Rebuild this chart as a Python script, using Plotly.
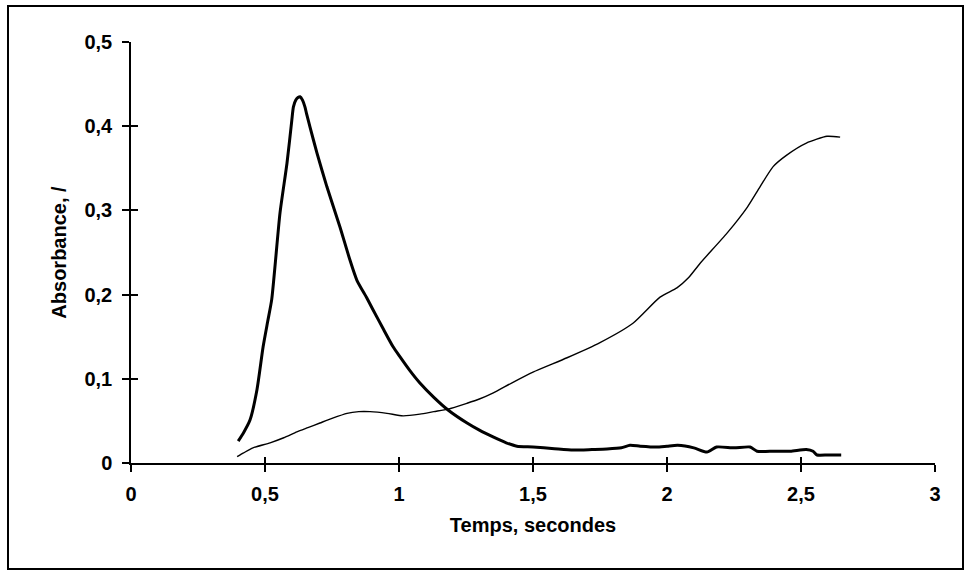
import plotly.graph_objects as go

# Thick curve (transient peak)
peak_t = [0.40, 0.42, 0.444, 0.47, 0.493, 0.51, 0.525, 0.556, 0.582, 0.60, 0.606, 0.615, 0.623, 0.631,
          0.64, 0.649, 0.655, 0.668, 0.694, 0.731, 0.78, 0.817, 0.843, 0.88, 0.903, 0.94, 0.978, 1.004,
          1.04, 1.078, 1.13, 1.183, 1.254, 1.30, 1.351, 1.40, 1.44, 1.50, 1.58, 1.65, 1.72, 1.776, 1.83,
          1.862, 1.90, 1.96, 2.0, 2.04, 2.10, 2.149, 2.185, 2.25, 2.31, 2.336, 2.40, 2.46, 2.52, 2.545,
          2.56, 2.60, 2.65]
peak_a = [0.026, 0.036, 0.051, 0.087, 0.138, 0.168, 0.194, 0.297, 0.356, 0.407, 0.423, 0.431, 0.434, 0.435,
          0.431, 0.423, 0.415, 0.399, 0.368, 0.328, 0.28, 0.241, 0.217, 0.196, 0.182, 0.16, 0.138, 0.126,
          0.11, 0.095, 0.078, 0.063, 0.0475, 0.039, 0.031, 0.024, 0.020, 0.019, 0.017, 0.0154, 0.016, 0.0166, 0.018,
          0.021, 0.020, 0.019, 0.020, 0.021, 0.018, 0.013, 0.019, 0.018, 0.019, 0.014, 0.014, 0.014, 0.016, 0.014,
          0.0095, 0.0095, 0.0095]

# Thin curve (product growth)
rise_t = [0.396, 0.42, 0.455, 0.519, 0.57, 0.619, 0.66, 0.705, 0.75, 0.806, 0.85, 0.892, 0.955,
          1.015, 1.078, 1.13, 1.183, 1.254, 1.30, 1.35, 1.42, 1.5, 1.627, 1.75, 1.873, 1.974,
          2.037, 2.08, 2.123, 2.224, 2.30, 2.347, 2.396, 2.448, 2.52, 2.597, 2.646]
rise_a = [0.0075, 0.012, 0.018, 0.024, 0.030, 0.037, 0.042, 0.0475, 0.053, 0.059, 0.061, 0.061, 0.059,
          0.056, 0.058, 0.061, 0.064, 0.071, 0.076, 0.083, 0.095, 0.108, 0.125, 0.143, 0.166, 0.197,
          0.208, 0.22, 0.237, 0.273, 0.304, 0.328, 0.352, 0.366, 0.38, 0.388, 0.387]

x_ticks = [0, 0.5, 1, 1.5, 2, 2.5, 3]
x_tick_labels = ["0", "0,5", "1", "1,5", "2", "2,5", "3"]
y_ticks = [0, 0.1, 0.2, 0.3, 0.4, 0.5]
y_tick_labels = ["0", "0,1", "0,2", "0,3", "0,4", "0,5"]

FONT = "Liberation Sans, Arial, sans-serif"
tickfont = dict(family=FONT, size=20, color="black", weight="bold")
titlefont = dict(family=FONT, size=20, color="black", weight="bold")

fig = go.Figure()
fig.add_trace(go.Scatter(x=peak_t, y=peak_a, mode="lines",
                         line=dict(color="black", width=3, shape="spline", smoothing=0.6),
                         showlegend=False))
fig.add_trace(go.Scatter(x=rise_t, y=rise_a, mode="lines",
                         line=dict(color="black", width=1.4, shape="spline", smoothing=0.6),
                         showlegend=False))
# invisible trace to activate overlay axes (crossing ticks)
fig.add_trace(go.Scatter(x=[None], y=[None], xaxis="x2", yaxis="y2", showlegend=False))

fig.update_layout(
    width=972, height=576,
    margin=dict(l=131, r=37, t=42, b=113),
    paper_bgcolor="white", plot_bgcolor="white",
    showlegend=False,
    xaxis=dict(range=[0, 3], tickvals=x_ticks, ticktext=x_tick_labels,
               showgrid=False, zeroline=False, showline=True, linecolor="black", linewidth=1.5,
               ticks="outside", ticklen=7, tickwidth=1.5, tickcolor="black",
               tickfont=tickfont, ticklabelstandoff=5,
               title=dict(text="Temps, secondes", font=titlefont, standoff=14)),
    yaxis=dict(range=[0, 0.5], tickvals=y_ticks, ticktext=y_tick_labels,
               showgrid=False, zeroline=False, showline=True, linecolor="black", linewidth=1.5,
               ticks="outside", ticklen=7, tickwidth=1.5, tickcolor="black",
               tickfont=tickfont, ticklabelstandoff=6,
               title=dict(text="Absorbance, /", font=titlefont, standoff=12)),
    xaxis2=dict(range=[0, 3], overlaying="x", tickvals=x_ticks, showticklabels=False,
                showgrid=False, zeroline=False, showline=False,
                ticks="inside", ticklen=6, tickwidth=1.5, tickcolor="black"),
    yaxis2=dict(range=[0, 0.5], overlaying="y", tickvals=y_ticks, showticklabels=False,
                showgrid=False, zeroline=False, showline=False,
                ticks="inside", ticklen=7, tickwidth=1.5, tickcolor="black"),
    shapes=[dict(type="rect", xref="paper", yref="paper",
                 x0=(8 - 131) / 804, x1=(963 - 131) / 804,
                 y0=(463 - 569) / 421, y1=(463 - 6) / 421,
                 line=dict(color="black", width=2), fillcolor="rgba(0,0,0,0)", layer="below")],
)

fig.write_html("out.html", config={"displayModeBar": False},
               post_script="document.body.style.margin='0px';document.body.style.overflow='hidden';")
